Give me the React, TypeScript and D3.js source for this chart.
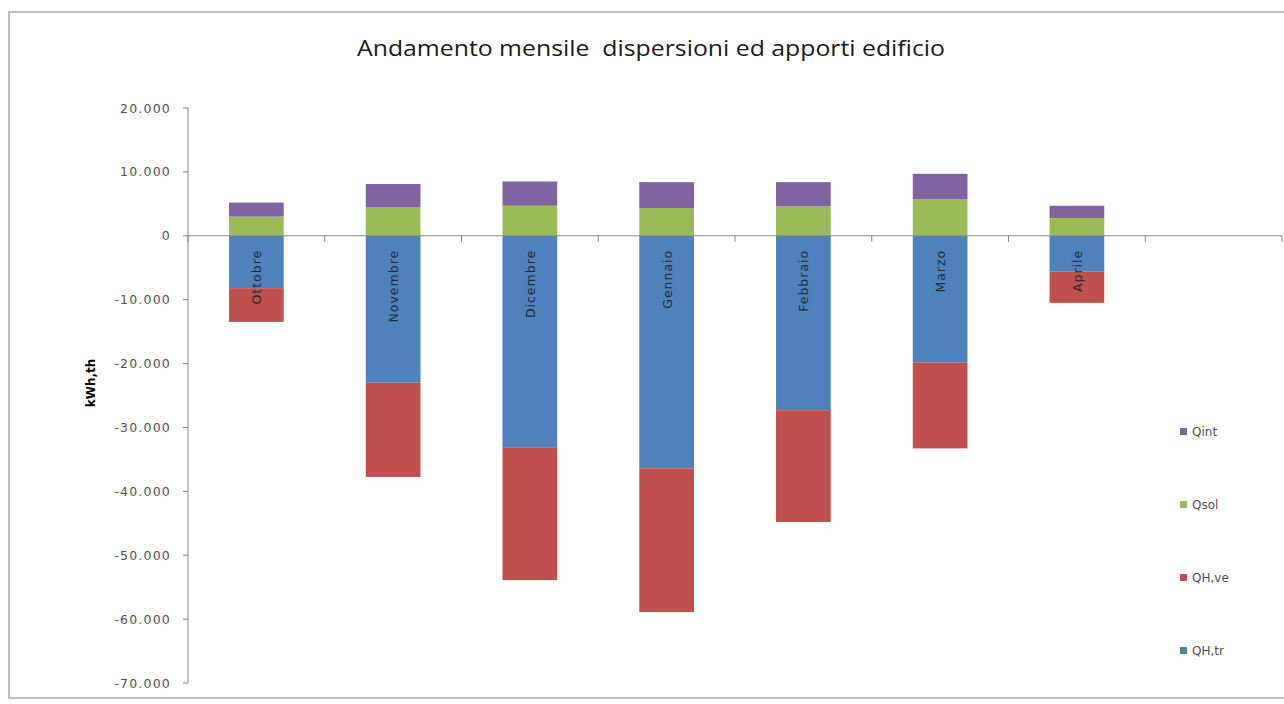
import React, { useEffect, useRef } from "react";
import * as d3 from "d3";

const categories = ["Ottobre", "Novembre", "Dicembre", "Gennaio", "Febbraio", "Marzo", "Aprile", ""];
const qhTr = [-8200, -23000, -33100, -36400, -27300, -19850, -5600, 0];
const qhVe = [-5280, -14750, -20800, -22500, -17500, -13430, -4900, 0];
const qSol = [3000, 4430, 4700, 4350, 4600, 5750, 2770, 0];
const qInt = [2200, 3670, 3800, 4050, 3800, 3950, 1930, 0];

const seriesKeys = ["qhTr", "qhVe", "qSol", "qInt"];
const seriesNames = ["QH,tr", "QH,ve", "Qsol", "Qint"];
const seriesColors = ["#4F81BD", "#C0504D", "#9BBB59", "#8064A2"];
const yTicks = [20000, 10000, 0, -10000, -20000, -30000, -40000, -50000, -60000, -70000];

const title = "Andamento mensile  dispersioni ed apporti edificio";
const yLabel = "kWh,th";

export default function App() {
  const ref = useRef<SVGSVGElement>(null);

  useEffect(() => {
    const svg = d3.select(ref.current);
    svg.selectAll("*").remove();

    const font = "'DejaVu Sans', sans-serif";
    const left = 188, right = 1282, top = 108, bottom = 683;

    const rows = categories.map((c, i) => ({
      cat: c + "_" + i,
      qhTr: qhTr[i],
      qhVe: qhVe[i],
      qSol: qSol[i],
      qInt: qInt[i],
    }));

    const x = d3
      .scaleBand()
      .domain(rows.map((r) => r.cat))
      .range([left, right])
      .paddingInner(0.6)
      .paddingOuter(0.3);
    const y = d3.scaleLinear().domain([-70000, 20000]).range([bottom, top]);

    const loc = d3.formatLocale({ decimal: ",", thousands: ".", grouping: [3], currency: ["€", ""], minus: "-" });
    const fmt = loc.format(",.0f");

    // chart border
    svg
      .append("rect")
      .attr("x", 9)
      .attr("y", 12)
      .attr("width", 1300)
      .attr("height", 686)
      .attr("fill", "#fff")
      .attr("stroke", "#BDBDBD")
      .attr("stroke-width", 2);

    // title
    svg
      .append("text")
      .attr("x", 651)
      .attr("y", 56)
      .attr("text-anchor", "middle")
      .attr("font-family", "'Liberation Sans Narrow', 'Open Sans', sans-serif")
      .attr("font-size", 21)
      .attr("fill", "#1a1a1a")
      .attr("textLength", 588)
      .attr("lengthAdjust", "spacingAndGlyphs")
      .style("white-space", "pre")
      .text(title);

    // stacked bars
    const stack = d3
      .stack<any>()
      .keys(seriesKeys)
      .offset(d3.stackOffsetDiverging);
    const stacked = stack(rows);

    const g = svg.append("g");
    stacked.forEach((s, si) => {
      g.selectAll(null)
        .data(s)
        .enter()
        .append("rect")
        .attr("x", (d: any) => x(d.data.cat)!)
        .attr("width", x.bandwidth())
        .attr("y", (d: any) => y(Math.max(d[0], d[1])))
        .attr("height", (d: any) => Math.abs(y(d[0]) - y(d[1])))
        .attr("fill", seriesColors[si]);
    });

    // y axis
    const axisColor = "#868686";
    svg
      .append("line")
      .attr("x1", left)
      .attr("x2", left)
      .attr("y1", y(20000))
      .attr("y2", y(-70000))
      .attr("stroke", axisColor)
      .attr("stroke-width", 1);
    yTicks.forEach((t) => {
      svg
        .append("line")
        .attr("x1", left - 5)
        .attr("x2", left)
        .attr("y1", y(t))
        .attr("y2", y(t))
        .attr("stroke", axisColor);
      svg
        .append("text")
        .attr("x", 171)
        .attr("y", y(t) + 4.5)
        .attr("text-anchor", "end")
        .attr("font-family", font)
        .attr("font-size", 12.5)
        .attr("letter-spacing", 1.2)
        .attr("fill", "#505050")
        .text(fmt(t));
    });

    // x axis at zero
    svg
      .append("line")
      .attr("x1", left)
      .attr("x2", right)
      .attr("y1", y(0))
      .attr("y2", y(0))
      .attr("stroke", axisColor);
    const step = x.step();
    for (let i = 0; i <= categories.length; i++) {
      const xv = left + i * step;
      svg
        .append("line")
        .attr("x1", xv)
        .attr("x2", xv)
        .attr("y1", y(0))
        .attr("y2", y(0) + 6)
        .attr("stroke", axisColor);
    }

    // category labels (rotated)
    rows.forEach((r, i) => {
      if (!categories[i]) return;
      const cx = x(r.cat)! + x.bandwidth() / 2;
      svg
        .append("text")
        .attr("transform", `translate(${cx + 5},${y(0) + 14}) rotate(-90)`)
        .attr("text-anchor", "end")
        .attr("font-family", font)
        .attr("font-size", 12.5)
        .attr("letter-spacing", 1)
        .attr("fill", "#1f2a3a")
        .text(categories[i]);
    });

    // y label
    svg
      .append("text")
      .attr("transform", `translate(95,383) rotate(-90)`)
      .attr("text-anchor", "middle")
      .attr("font-family", font)
      .attr("font-size", 12)
      .attr("font-weight", "bold")
      .attr("fill", "#000")
      .text(yLabel);

    // legend (reversed order)
    const legendY = [432, 505, 578, 651];
    const order = [3, 2, 1, 0];
    order.forEach((si, k) => {
      svg
        .append("rect")
        .attr("x", 1180)
        .attr("y", legendY[k] - 4)
        .attr("width", 7)
        .attr("height", 7)
        .attr("fill", seriesColors[si]);
      svg
        .append("text")
        .attr("x", 1192)
        .attr("y", legendY[k] + 4)
        .attr("font-family", font)
        .attr("font-size", 12)
        .attr("fill", "#505050")
        .text(seriesNames[si]);
    });
  }, []);

  return (
    <svg
      ref={ref}
      width={1284}
      height={704}
      style={{ position: "absolute", left: 0, top: 0, display: "block" }}
    />
  );
}
